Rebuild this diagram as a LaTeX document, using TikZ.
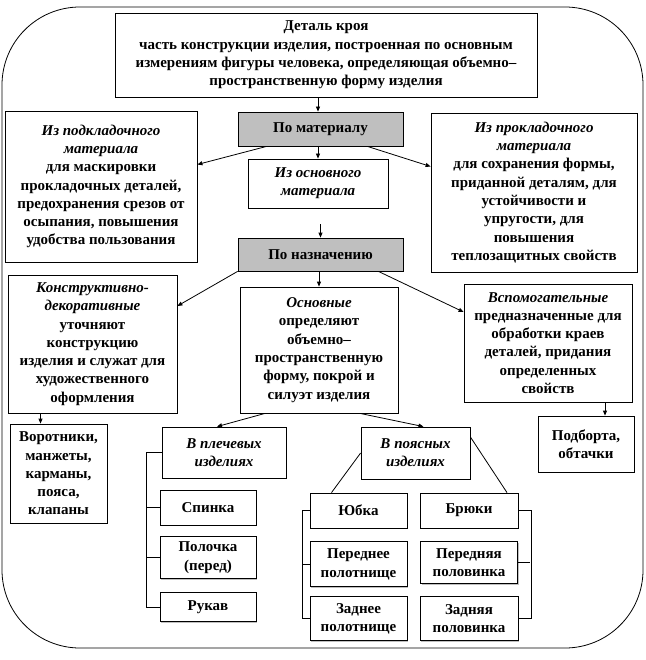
\documentclass[tikz,border=0pt]{standalone}
\usepackage{fontspec}
\setmainfont{Liberation Serif}
\usetikzlibrary{arrows.meta,positioning,shadows}

\tikzset{
  box/.style={draw, fill=white, align=center, inner sep=2pt,
    font=\fontsize{15}{18.3}\selectfont\bfseries,
    drop shadow={shadow xshift=1pt, shadow yshift=-1pt, fill=black!50}},
  graybox/.style={box, fill=black!25},
  arr/.style={-{Triangle[length=5pt,width=4pt]}}
}

\begin{document}
\begin{tikzpicture}[x=1pt, y=-1pt, line width=0.8pt]
  \useasboundingbox (0,0) rectangle (645,660);
  \draw[rounded corners=78pt] (2,7) rectangle (643,648);

  % top level
  \node[box, minimum width=422pt, minimum height=84pt] (detail) at (326,55) {Деталь кроя\\часть конструкции изделия, построенная по основным\\измерениям фигуры человека, определяющая объемно–\\пространственную форму изделия};
  \node[graybox, minimum width=165pt, minimum height=34pt] (mat) at (320.5,129) {По материалу};
  \node[box, minimum width=192pt, minimum height=151pt] (podkl) at (101,186.5) {\textit{Из подкладочного}\\\textit{материала}\\для маскировки\\прокладочных деталей,\\предохранения срезов от\\осыпания, повышения\\удобства пользования};
  \node[box, minimum width=140pt, minimum height=49pt] (osn) at (318,183.5) {\textit{Из основного}\\\textit{материала}};
  \node[box, minimum width=206pt, minimum height=159pt] (prokl) at (534,192.5) {\textit{Из прокладочного}\\\textit{материала}\\для сохранения формы,\\приданной деталям, для\\устойчивости и\\упругости, для\\повышения\\теплозащитных свойств};
  \node[graybox, minimum width=165pt, minimum height=33pt] (naz) at (320.5,254.5) {По назначению};

  % by purpose
  \node[box, minimum width=169pt, minimum height=138pt] (konstr) at (92.5,344) {\textit{Конструктивно-}\\\textit{декоративные}\\уточняют\\конструкцию\\изделия и служат для\\художественного\\оформления};
  \node[box, minimum width=158pt, minimum height=126pt] (osnov) at (319,350) {\textit{Основные}\\определяют\\объемно–\\пространственную\\форму, покрой и\\силуэт изделия};
  \node[box, minimum width=168pt, minimum height=118pt] (vspom) at (548,343) {\textit{Вспомогательные}\\предназначенные для\\обработки краев\\деталей, придания\\определенных\\свойств};

  \node[box, minimum width=97pt, minimum height=99pt] (vorot) at (58.5,473.5) {Воротники,\\манжеты,\\карманы,\\пояса,\\клапаны};
  \node[box, minimum width=96pt, minimum height=56pt] (podb) at (586,444) {Подборта,\\обтачки};
  \node[box, minimum width=124pt, minimum height=51pt] (plech) at (224,452.5) {\textit{В плечевых}\\\textit{изделиях}};
  \node[box, minimum width=109pt, minimum height=52pt] (poyas) at (415.5,453) {\textit{В поясных}\\\textit{изделиях}};

  % parts
  \node[box, minimum width=96pt, minimum height=35pt] (spinka) at (208,507.5) {Спинка};
  \node[box, minimum width=96pt, minimum height=42pt, below=11pt of spinka] (polochka) {Полочка\\(перед)};
  \node[box, minimum width=96pt, minimum height=29pt, below=13pt of polochka] (rukav) {Рукав};
  \node[box, minimum width=97pt, minimum height=35pt] (yubka) at (358.5,510.5) {Юбка};
  \node[box, minimum width=97pt, minimum height=45pt, below=13pt of yubka] (perpol) {Переднее\\полотнище};
  \node[box, minimum width=97pt, minimum height=44pt, below=9pt of perpol] (zadpol) {Заднее\\полотнище};
  \node[box, minimum width=98pt, minimum height=35pt] (bryuki) at (469,510.5) {Брюки};
  \node[box, minimum width=97pt, minimum height=42pt, below=13pt of bryuki] (perpolov) {Передняя\\половинка};
  \node[box, minimum width=98pt, minimum height=44pt, below=12pt of perpolov] (zadpolov) {Задняя\\половинка};

  % arrows
  \draw[arr] (detail.south -| osn) -- (mat.north -| osn);
  \draw[arr] (mat.south -| osn) -- (osn);
  \draw[arr] ([xshift=29pt]mat.south west) -- ([yshift=22pt]podkl.east);
  \draw[arr] ([xshift=-36pt]mat.south east) -- ([yshift=26pt]prokl.west);
  \draw[arr, shorten <=16pt] (osn.south -| naz) -- (naz);
  \draw[arr] (naz.south -| osnov) -- (osnov);
  \draw[arr] (naz.south west) -- ([yshift=38pt]konstr.east);
  \draw[arr] ([xshift=-25pt]naz.south east) -- ([yshift=31pt]vspom.west);
  \draw[arr] ([xshift=-18pt]vorot.north |- konstr.south) -- ([xshift=-18pt]vorot.north);
  \draw[arr] ([xshift=19pt]podb.north |- vspom.south) -- ([xshift=19pt]podb.north);
  \draw[arr] ([xshift=-54pt]osnov.south) -- ([xshift=-7pt]plech.north);
  \draw[arr] ([xshift=41pt]osnov.south) -- ([xshift=8pt]poyas.north);
  \draw (poyas.west) -- ([xshift=-27pt]yubka.north);
  \draw ([yshift=16pt]poyas.east) -- ([xshift=38pt]bryuki.north);

  % brackets
  \draw (plech.west) -- ++(-15,0) |- (rukav.west);
  \foreach \n in {spinka,polochka} \draw (\n.west) -- ++(-13,0);
  \draw (yubka.west) -- ++(-7,0) |- (zadpol.west);
  \draw (perpol.west) -- ++(-7,0);
  \draw (bryuki.east) -- ++(13,0) |- (zadpolov.east);
  \draw (perpolov.east) -- ++(12,0);
\end{tikzpicture}
\end{document}
